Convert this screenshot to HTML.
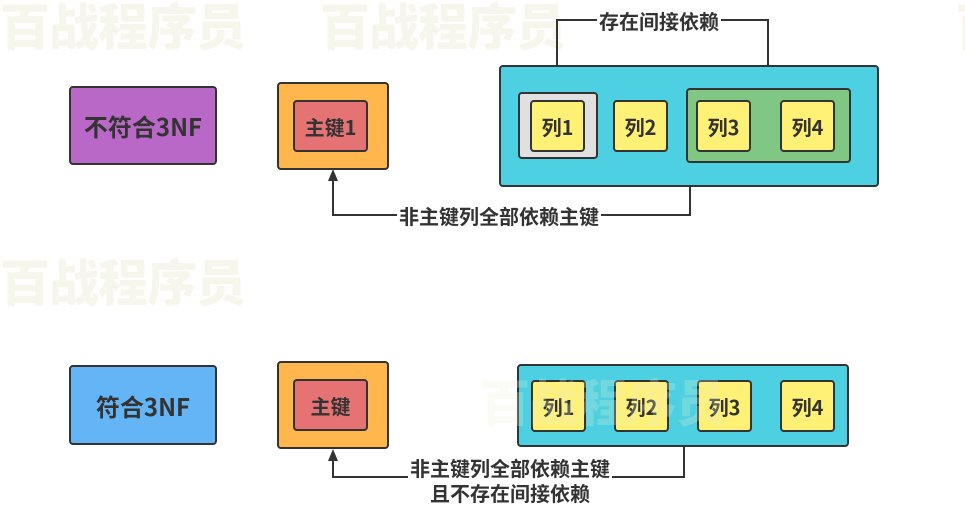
<!DOCTYPE html>
<html><head><meta charset="utf-8"><style>
body{margin:0;width:965px;height:515px;background:#fff;position:relative;overflow:hidden;font-family:"Noto Sans CJK SC","Liberation Sans",sans-serif;font-weight:bold;color:#333}
.b{position:absolute;box-sizing:border-box;border:2px solid #333;border-radius:4px;display:flex;align-items:center;justify-content:center}
.c{background:#fff176;font-size:20px;width:55px;height:52px}
.wm{position:absolute;font-size:50px;line-height:60px;color:#f6f6ec;font-weight:900;letter-spacing:-1px;font-family:"Noto Sans CJK SC",sans-serif}
.lbl{position:absolute;background:#fff;font-size:20px;line-height:25px;text-align:center;padding:0 2px}
</style></head><body>
<div class="wm" style="left:0;top:-6px">百战程序员</div>
<div class="wm" style="left:320px;top:-6px">百战程序员</div>
<div class="wm" style="left:955px;top:-6px">百</div>
<div class="wm" style="left:0;top:250px">百战程序员</div>

<svg style="position:absolute;left:0;top:0" width="965" height="515">
<g fill="none" stroke="#333" stroke-width="2">
<polyline points="768,88 768,20 557,20 557,85"/>
<polyline points="690,186 690,215 333,215 333,177"/>
<polyline points="684,446 684,477 333,477 333,458"/>
</g>
<g fill="#333">
<polygon points="552,82 562,82 557,93"/>
<polygon points="328,181 338,181 333,169"/>
<polygon points="328,461 338,461 333,449"/>
</g>
</svg>

<div class="b" style="left:69px;top:86px;width:148px;height:79px;background:#b968c7;font-size:24px">不符合3NF</div>
<div class="b" style="left:277px;top:82px;width:112px;height:88px;background:#ffb74d"></div>
<div class="b" style="left:293px;top:100px;width:75px;height:52px;background:#e57373;font-size:20px">主键1</div>
<div class="b" style="left:499px;top:65px;width:380px;height:122px;background:#4dd0e1"></div>
<div class="b" style="left:518px;top:92px;width:80px;height:67px;background:#e0e0e0"></div>
<div class="b" style="left:686px;top:88px;width:165px;height:75px;background:#81c784"></div>
<div class="b c" style="left:530px;top:100px">列1</div>
<div class="b c" style="left:613px;top:100px">列2</div>
<div class="b c" style="left:696px;top:100px">列3</div>
<div class="b c" style="left:780px;top:100px">列4</div>
<div class="lbl" style="left:597px;top:8px">存在间接依赖</div>
<div class="lbl" style="left:397px;top:203px">非主键列全部依赖主键</div>

<div class="b" style="left:69px;top:365px;width:148px;height:80px;background:#64b5f6;font-size:24px">符合3NF</div>
<div class="b" style="left:277px;top:361px;width:112px;height:88px;background:#ffb74d"></div>
<div class="b" style="left:293px;top:379px;width:75px;height:52px;background:#e57373;font-size:20px">主键</div>
<div class="b" style="left:517px;top:364px;width:332px;height:83px;background:#4dd0e1"></div>
<div class="b c" style="left:531px;top:380px">列1</div>
<div class="b c" style="left:614px;top:380px">列2</div>
<div class="b c" style="left:697px;top:380px">列3</div>
<div class="b c" style="left:780px;top:380px">列4</div>
<div class="wm" style="left:480px;top:370px;color:rgba(230,240,210,0.25)">百战程序员</div>
<div class="lbl" style="left:408px;top:455px">非主键列全部依赖主键<br>且不存在间接依赖</div>
</body></html>
